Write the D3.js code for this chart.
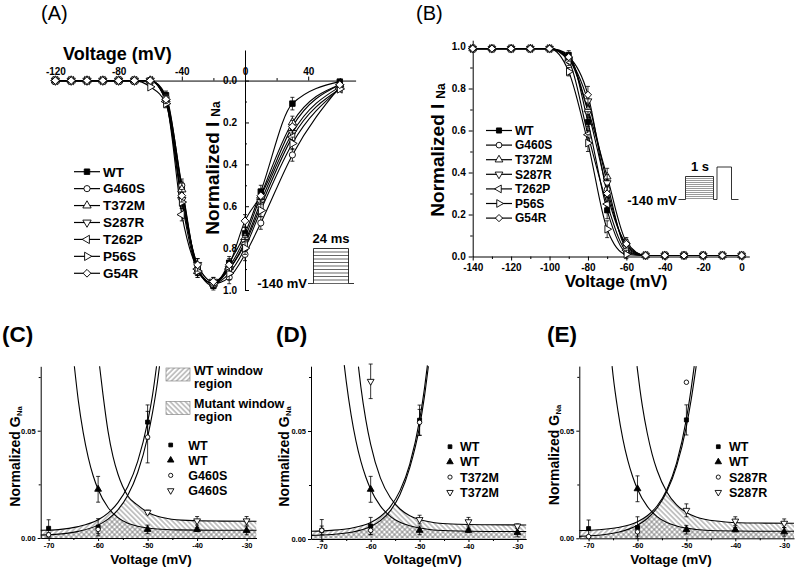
<!DOCTYPE html>
<html>
<head>
<meta charset="utf-8">
<script src="https://cdn.jsdelivr.net/npm/d3@7"></script>
<style>
  html, body { margin: 0; background: #fff; }
  svg { display: block; }
</style>
</head>
<body>
<svg id="fig" width="800" height="571"></svg>
<script>
// ---------- data ----------
const variants = ['WT', 'G460S', 'T372M', 'S287R', 'T262P', 'P56S', 'G54R'];
const shapes = ['squareFilled', 'circle', 'triUp', 'triDown', 'triLeft', 'triRight', 'diamond'];

// (A) I-V relationship, normalized I_Na (positive = downward)
const ivVoltage = [-120, -110, -100, -90, -80, -70, -60, -50, -40, -30, -20, -10, 0, 10, 30, 60];
const ivWT    = [0, 0, 0, 0, 0, 0, 0, 0.07, 0.51, 0.90, 0.98, 0.87, 0.73, 0.53, 0.11, 0.005];
const ivG460S = [0, 0, 0, 0, 0, 0, 0, 0.08, 0.50, 0.90, 0.97, 0.94, 0.83, 0.68, 0.355, 0.03];
const ivT372M = [0, 0, 0, 0, 0, 0, 0, 0.09, 0.52, 0.91, 0.97, 0.89, 0.75, 0.55, 0.20, 0.02];
const ivS287R = [0, 0, 0, 0, 0, 0, 0, 0.10, 0.57, 0.88, 0.96, 0.90, 0.77, 0.58, 0.25, 0.03];
const ivT262P = [0, 0, 0, 0, 0, 0, 0, 0.10, 0.64, 0.90, 0.97, 0.90, 0.78, 0.60, 0.27, 0.04];
const ivP56S  = [0, 0, 0, 0, 0, 0, 0.03, 0.11, 0.58, 0.91, 0.97, 0.92, 0.80, 0.62, 0.30, 0.04];
const ivG54R  = [0, 0, 0, 0, 0, 0, 0, 0.09, 0.55, 0.88, 0.96, 0.88, 0.67, 0.55, 0.22, 0.02];
const ivErr   = [0, 0, 0, 0, 0, 0, 0, 0.02, 0.03, 0.03, 0.02, 0.03, 0.03, 0.03, 0.03, 0.01];

// (B) steady-state inactivation
const inVoltage = [-140, -130, -120, -110, -100, -90, -80, -70, -60, -50, -40, -30, -20, -10, 0];
const inWT    = [0.99, 0.99, 0.99, 0.99, 0.99, 0.96, 0.64, 0.22, 0.02, 0.005, 0.005, 0.005, 0.005, 0.005, 0.005];
const inG460S = [0.99, 0.99, 0.99, 0.99, 0.99, 0.94, 0.69, 0.32, 0.05, 0.005, 0.005, 0.005, 0.005, 0.005, 0.005];
const inT372M = [0.99, 0.99, 0.99, 0.99, 0.99, 0.95, 0.70, 0.38, 0.07, 0.005, 0.005, 0.005, 0.005, 0.005, 0.005];
const inS287R = [0.99, 0.99, 0.99, 0.99, 0.99, 0.94, 0.74, 0.35, 0.04, 0.005, 0.005, 0.005, 0.005, 0.005, 0.005];
const inT262P = [0.99, 0.99, 0.99, 0.99, 0.99, 0.93, 0.58, 0.25, 0.03, 0.005, 0.005, 0.005, 0.005, 0.005, 0.005];
const inP56S  = [0.99, 0.99, 0.99, 0.99, 0.99, 0.88, 0.54, 0.13, 0.01, 0.005, 0.005, 0.005, 0.005, 0.005, 0.005];
const inG54R  = [0.99, 0.99, 0.99, 0.99, 0.99, 0.95, 0.77, 0.30, 0.06, 0.005, 0.005, 0.005, 0.005, 0.005, 0.005];
const inErr   = [0, 0, 0, 0, 0.01, 0.02, 0.04, 0.04, 0.02, 0, 0, 0, 0, 0, 0];

// (C)-(E) window currents, normalized G_Na
const winVoltage = [-70, -60, -50, -40, -30];

const cWtAct      = [0.0045, 0.005, 0.054, null, null];
const cWtActErr   = [0.004, 0.004, 0.008, 0, 0];
const cWtInact    = [null, 0.0227, 0.004, 0.004, 0.0035];
const cWtInactErr = [0, 0.006, 0.002, 0.001, 0.002];
const cMutAct     = [0.0015, 0.004, 0.047, null, null];
const cMutActErr  = [0.001, 0.002, 0.012, 0, 0];
const cMutInact   = [null, null, 0.012, 0.008, 0.008];
const cMutInactErr = [0, 0, 0.001, 0.002, 0.002];

const dWtAct      = [0.004, 0.006, 0.055, null, null];
const dWtActErr   = [0.005, 0.004, 0.007, 0, 0];
const dWtInact    = [null, 0.023, 0.004, 0.004, 0.003];
const dWtInactErr = [0, 0.006, 0.002, 0.001, 0.002];
const dMutAct     = [0.004, 0.004, 0.054, null, null];
const dMutActErr  = [0.002, 0.002, 0.006, 0, 0];
const dMutInact   = [null, 0.073, 0.009, 0.008, 0.006];
const dMutInactErr = [0, 0.008, 0.002, 0.002, 0.001];

const eWtAct      = [0.0045, 0.005, 0.055, null, null];
const eWtActErr   = [0.004, 0.005, 0.007, 0, 0];
const eWtInact    = [null, 0.023, 0.004, 0.004, 0.003];
const eWtInactErr = [0, 0.006, 0.002, 0.001, 0.002];
const eMutAct     = [0.0008, 0.003, 0.0725, null, null];
const eMutActErr  = [0, 0.002, 0, 0, 0];
const eMutInact   = [null, null, 0.013, 0.008, 0.007];
const eMutInactErr = [0, 0, 0.003, 0.002, 0.002];

// fitted curves, [mV, G]
const cFitWtAct = [[-71.6, 0.0036], [-68, 0.0039], [-64, 0.0053], [-60, 0.0085], [-58, 0.0116], [-56, 0.0165],
  [-54, 0.024], [-52, 0.0357], [-50, 0.054], [-49, 0.0667], [-48.2, 0.08]];
const cFitMutAct = [[-71.6, 0.0014], [-68, 0.0018], [-64, 0.0031], [-60, 0.006], [-58, 0.0088], [-56, 0.0131],
  [-54, 0.0199], [-52, 0.0305], [-50, 0.047], [-49, 0.0585], [-48, 0.0728], [-47.6, 0.08]];
const cFitWtInact = [[-64.8, 0.08], [-64, 0.064], [-63, 0.049], [-62, 0.0376], [-61, 0.029], [-60, 0.0226],
  [-58, 0.0142], [-56, 0.0095], [-54, 0.0069], [-52, 0.0055], [-48, 0.0042], [-44, 0.0038], [-36, 0.0036], [-28, 0.0036]];
const cFitMutInact = [[-59.7, 0.08], [-59, 0.0666], [-58, 0.0498], [-57, 0.038], [-56, 0.0298], [-54, 0.0196],
  [-52, 0.0153], [-50, 0.012], [-48, 0.0101], [-46, 0.0091], [-42, 0.0082], [-36, 0.0079], [-28, 0.0078]];

const dFitWtAct = [[-72.2, 0.0036], [-68, 0.004], [-64, 0.005], [-60, 0.0076], [-58, 0.0104], [-56, 0.0149],
  [-54, 0.0224], [-52, 0.0347], [-50, 0.055], [-49, 0.0697], [-48.4, 0.0804]];
const dFitMutAct = [[-72.2, 0.0017], [-68, 0.0021], [-64, 0.0031], [-60, 0.0058], [-58, 0.0085], [-56, 0.013],
  [-54, 0.0206], [-52, 0.033], [-50, 0.052], [-49, 0.066], [-48.2, 0.08]];
const dFitWtInact = [[-65.4, 0.0805], [-65, 0.0731], [-64, 0.0575], [-63, 0.0453], [-62, 0.0359], [-61, 0.0287],
  [-60, 0.023], [-58, 0.0152], [-56, 0.0105], [-54, 0.0077], [-52, 0.0061], [-48, 0.0044], [-44, 0.0038],
  [-36, 0.0035], [-28.2, 0.0035]];
const dFitMutInact = [[-62.5, 0.0798], [-62, 0.0703], [-61, 0.0553], [-60, 0.0438], [-58, 0.0282], [-56, 0.0192],
  [-54, 0.0139], [-52, 0.0108], [-50, 0.009], [-48, 0.008], [-46, 0.0073], [-42, 0.0068], [-36, 0.0066], [-28.2, 0.0065]];

const eFitWtAct = [[-71.9, 0.0036], [-68, 0.004], [-64, 0.005], [-60, 0.0077], [-58, 0.0105], [-56, 0.015],
  [-54, 0.0226], [-52, 0.035], [-50, 0.0555], [-49, 0.07], [-48.4, 0.08]];
const eFitMutAct = [[-71.9, 0.0009], [-68, 0.0014], [-64, 0.0028], [-60, 0.0061], [-58, 0.0092], [-56, 0.0141],
  [-54, 0.0217], [-52, 0.0335], [-50, 0.052], [-49, 0.0648], [-48, 0.08]];
const eFitWtInact = [[-65.2, 0.08], [-65, 0.0758], [-64, 0.0592], [-63, 0.0462], [-62, 0.0363], [-61, 0.0287],
  [-60, 0.0228], [-58, 0.0148], [-56, 0.0101], [-54, 0.0073], [-52, 0.0057], [-48, 0.0041], [-44, 0.0035],
  [-36, 0.0033], [-28, 0.0033]];
const eFitMutInact = [[-60.1, 0.08], [-59.5, 0.0692], [-59, 0.0614], [-58, 0.0488], [-57, 0.039], [-56, 0.0316],
  [-54, 0.0215], [-52, 0.0155], [-50, 0.012], [-48, 0.0099], [-46, 0.0087], [-42, 0.0076], [-36, 0.0071], [-28, 0.007]];

// ---------- drawing ----------
const FONT = '"Liberation Sans", Arial, Helvetica, sans-serif';
const svg = d3.select('#fig').attr('font-family', FONT);
const defs = svg.append('defs');

function hatch(id, angle) {
  defs.append('pattern')
    .attr('id', id)
    .attr('patternUnits', 'userSpaceOnUse')
    .attr('width', 3.6)
    .attr('height', 3.6)
    .attr('patternTransform', `rotate(${angle})`)
    .append('line')
      .attr('x1', 1.8).attr('x2', 1.8)
      .attr('y1', 0).attr('y2', 3.6)
      .attr('stroke', '#6a6a6a')
      .attr('stroke-width', 0.75);
}
hatch('hatchWT', 45);
hatch('hatchMut', -45);

const symbols = {
  squareFilled: { type: d3.symbolSquare, rot: 0, fill: '#000' },
  circle: { type: d3.symbolCircle, rot: 0, fill: '#fff' },
  triUp: { type: d3.symbolTriangle, rot: 0, fill: '#fff' },
  triUpFilled: { type: d3.symbolTriangle, rot: 0, fill: '#000' },
  triDown: { type: d3.symbolTriangle, rot: 180, fill: '#fff' },
  triLeft: { type: d3.symbolTriangle, rot: -90, fill: '#fff' },
  triRight: { type: d3.symbolTriangle, rot: 90, fill: '#fff' },
  diamond: { type: d3.symbolSquare, rot: 45, fill: '#fff' },
};

function marker(g, shape, x, y, size) {
  const s = symbols[shape];
  g.append('path')
    .attr('d', d3.symbol(s.type, size)())
    .attr('transform', `translate(${x},${y}) rotate(${s.rot})`)
    .attr('fill', s.fill)
    .attr('stroke', '#000')
    .attr('stroke-width', 0.9);
}

function styleAxis(g, size) {
  g.attr('font-family', FONT)
    .attr('font-size', size)
    .attr('font-weight', 'bold');
  g.selectAll('path, line').attr('stroke', '#000').attr('stroke-width', 1);
  g.selectAll('text').attr('fill', '#000');
}

function minorAxis(g, axis) {
  g.call(axis.tickFormat('').tickSizeOuter(0));
  g.select('.domain').remove();
  g.selectAll('line').attr('stroke', '#000');
}

function drawPoints(g, x, y, voltages, values, errs, shape, size, cap) {
  voltages.forEach((v, i) => {
    const val = values[i];
    if (val == null) return;
    const e = errs ? errs[i] : 0;
    if (e > 0) {
      const px = x(v);
      const eb = g.append('g').attr('stroke', '#000').attr('stroke-width', 0.8);
      eb.append('line').attr('x1', px).attr('x2', px).attr('y1', y(val - e)).attr('y2', y(val + e));
      [val - e, val + e].forEach(t => eb.append('line')
        .attr('x1', px - cap).attr('x2', px + cap)
        .attr('y1', y(t)).attr('y2', y(t)));
    }
    marker(g, shape, x(v), y(val), size);
  });
}

function text(g, x, y, str, size, weight, anchor) {
  return g.append('text')
    .attr('x', x)
    .attr('y', y)
    .attr('font-size', size)
    .attr('font-weight', weight || 'normal')
    .attr('text-anchor', anchor || 'start')
    .text(str);
}

function yTitle(g, x, y, main, sub, size, subSize, dx, dy) {
  const t = g.append('text')
    .attr('transform', `translate(${x},${y}) rotate(-90)`)
    .attr('text-anchor', 'middle')
    .attr('font-size', size)
    .attr('font-weight', 'bold');
  t.append('tspan').text(main);
  t.append('tspan').attr('font-size', subSize).attr('dx', dx).attr('dy', dy).text(sub);
}

function legendRows(g, x0, x1, xm, xt, y0, step, size, fontSize) {
  variants.forEach((name, i) => {
    const y = y0 + i * step;
    g.append('line')
      .attr('x1', x0).attr('x2', x1)
      .attr('y1', y).attr('y2', y)
      .attr('stroke', '#000')
      .attr('stroke-width', 1.2);
    marker(g, shapes[i], xm, y, size);
    text(g, xt, y, name, fontSize, 'bold').attr('dy', '0.36em');
  });
}

// ----- panel A -----
const ivSeries = [ivWT, ivG460S, ivT372M, ivS287R, ivT262P, ivP56S, ivG54R];
const xA = d3.scaleLinear().domain([-120, 70]).range([55.4, 355.6]);
const yA = d3.scaleLinear().domain([-0.146, 1]).range([50, 290]);
const gA = svg.append('g');

text(gA, 41, 19.5, '(A)', 20);

gA.append('g')
  .attr('transform', `translate(0,${yA(0)})`)
  .call(d3.axisTop(xA).tickValues([-120, -80, -40, 0, 40]).tickSize(4).tickPadding(2)
    .tickSizeOuter(0).tickFormat(d => String(d)))
  .call(styleAxis, 10);
gA.append('g')
  .attr('transform', `translate(0,${yA(0)})`)
  .call(minorAxis, d3.axisTop(xA).tickValues([-100, -60, -20, 20, 60]).tickSize(2.5));

gA.append('g')
  .attr('transform', `translate(${xA(0)},0)`)
  .call(d3.axisLeft(yA).tickValues([0, 0.2, 0.4, 0.6, 0.8, 1.0]).tickSize(-4).tickPadding(8)
    .tickSizeOuter(0).tickFormat(d3.format('.1f')))
  .call(styleAxis, 10);
gA.append('g')
  .attr('transform', `translate(${xA(0)},0)`)
  .call(minorAxis, d3.axisLeft(yA).tickValues([0.1, 0.3, 0.5, 0.7, 0.9]).tickSize(-2));

text(gA, 63, 60, 'Voltage (mV)', 18, 'bold');
yTitle(gA, 218.5, 168, 'Normalized I', 'Na', 19, 12, 5, 1);

const lineA = d3.line()
  .x((_, i) => xA(ivVoltage[i]))
  .y(d => yA(d))
  .curve(d3.curveMonotoneX);
ivSeries.forEach(values => gA.append('path')
  .attr('d', lineA(values))
  .attr('fill', 'none')
  .attr('stroke', '#000')
  .attr('stroke-width', 1.1));
ivSeries.forEach((values, i) => drawPoints(gA, xA, yA, ivVoltage, values, ivErr, shapes[i], 30, 2));

legendRows(gA, 74, 100, 87, 103, 171.7, 16.93, 30, 13.5);

// 24 ms voltage protocol
const protA = gA.append('g').attr('stroke', '#000').attr('fill', 'none').attr('stroke-width', 0.8);
protA.append('path').attr('d', 'M308,283.5H313.5V248.5H348.5V283.5H354');
d3.range(1, 11).forEach(k => protA.append('line')
  .attr('x1', 313.5).attr('x2', 348.5)
  .attr('y1', 248.5 + k * 3.5).attr('y2', 248.5 + k * 3.5)
  .attr('stroke-width', 0.6));
text(gA, 331, 243, '24 ms', 13, 'bold', 'middle');
text(gA, 307, 288, '-140 mV', 13, 'bold', 'end');

// ----- panel B -----
const inSeries = [inWT, inG460S, inT372M, inS287R, inT262P, inP56S, inG54R];
const xB = d3.scaleLinear().domain([-140, 4]).range([472.7, 749.3]);
const yB = d3.scaleLinear().domain([0, 1.03]).range([256.5, 40.2]);
const gB = svg.append('g');

text(gB, 416, 19.5, '(B)', 20);

gB.append('g')
  .attr('transform', `translate(0,${yB(0)})`)
  .call(d3.axisBottom(xB).tickValues(d3.range(-140, 1, 20)).tickSize(4).tickPadding(3)
    .tickSizeOuter(0).tickFormat(d => String(d)))
  .call(styleAxis, 10);
gB.append('g')
  .attr('transform', `translate(0,${yB(0)})`)
  .call(minorAxis, d3.axisBottom(xB).tickValues(d3.range(-130, 0, 20)).tickSize(2.5));

gB.append('g')
  .attr('transform', `translate(${xB(-140)},0)`)
  .call(d3.axisLeft(yB).tickValues([0, 0.2, 0.4, 0.6, 0.8, 1.0]).tickSize(4).tickPadding(3)
    .tickSizeOuter(0).tickFormat(d3.format('.1f')))
  .call(styleAxis, 10);
gB.append('g')
  .attr('transform', `translate(${xB(-140)},0)`)
  .call(minorAxis, d3.axisLeft(yB).tickValues([0.1, 0.3, 0.5, 0.7, 0.9]).tickSize(2.5));

text(gB, 616, 287, 'Voltage (mV)', 17, 'bold', 'middle');
yTitle(gB, 443.5, 150, 'Normalized I', 'Na', 19, 12, 5, 1);

const lineB = d3.line()
  .x((_, i) => xB(inVoltage[i]))
  .y(d => yB(d))
  .curve(d3.curveMonotoneX);
inSeries.forEach(values => gB.append('path')
  .attr('d', lineB(values))
  .attr('fill', 'none')
  .attr('stroke', '#000')
  .attr('stroke-width', 1.1));
inSeries.forEach((values, i) => drawPoints(gB, xB, yB, inVoltage, values, inErr, shapes[i], 26, 2));

legendRows(gB, 486, 512, 499, 515, 130.5, 14.6, 26, 12);

// 1 s prepulse protocol
const protB = gB.append('g').attr('stroke', '#000').attr('fill', 'none').attr('stroke-width', 0.8);
protB.append('path').attr('d', 'M678.5,199.5H685.5V176.5H713.5V199.5H717V167H731.5V199.5H738.5');
d3.range(1, 12).forEach(k => protB.append('line')
  .attr('x1', 685.5).attr('x2', 713.5)
  .attr('y1', 176.5 + k * 2).attr('y2', 176.5 + k * 2)
  .attr('stroke', '#555')
  .attr('stroke-width', 0.6));
text(gB, 700, 171, '1 s', 13, 'bold', 'middle');
text(gB, 677, 205, '-140 mV', 13, 'bold', 'end');

// ----- panels C, D, E -----
function windowPanel(cfg) {
  const g = svg.append('g');
  const x = d3.scaleLinear().domain(cfg.xDomain).range(cfg.xRange);
  const y = d3.scaleLinear().domain([0, 0.08]).range(cfg.yRange);
  const [xl, xr] = x.range();
  const yb = y(0);
  const yt = y(0.08);
  const line = d3.line()
    .x(d => x(d[0]))
    .y(d => y(d[1]))
    .curve(d3.curveMonotoneX);

  // window regions: area under activation, clipped to the area under inactivation
  const region = (act, inact, pattern, id) => {
    const clipId = `clip-${id}`;
    g.append('clipPath')
      .attr('id', clipId)
      .append('path')
        .attr('d', `M${xl},${yb}L${xl},${yt}L` + line(inact).slice(1) + `L${xr},${yb}Z`);
    g.append('path')
      .attr('d', `M${xl},${yb}L` + line(act).slice(1) + `L${xr},${yt}L${xr},${yb}Z`)
      .attr('fill', `url(#${pattern})`)
      .attr('clip-path', `url(#${clipId})`);
  };
  region(cfg.fits.wtAct, cfg.fits.wtInact, 'hatchWT', cfg.id + 'wt');
  region(cfg.fits.mutAct, cfg.fits.mutInact, 'hatchMut', cfg.id + 'mut');

  Object.values(cfg.fits).forEach(f => g.append('path')
    .attr('d', line(f))
    .attr('fill', 'none')
    .attr('stroke', '#000')
    .attr('stroke-width', 1.1));

  g.append('g')
    .attr('transform', `translate(0,${yb})`)
    .call(d3.axisBottom(x).tickValues(winVoltage).tickSize(3).tickPadding(1.5)
      .tickSizeOuter(0).tickFormat(d => String(d)))
    .call(styleAxis, 7.5);
  g.append('g')
    .attr('transform', `translate(0,${yb})`)
    .call(minorAxis, d3.axisBottom(x).tickValues([-65, -55, -45, -35]).tickSize(2));
  g.append('g')
    .attr('transform', `translate(${xl},0)`)
    .call(d3.axisLeft(y).tickValues([0, 0.05]).tickSize(3).tickPadding(2)
      .tickSizeOuter(0).tickFormat(d3.format('.2f')))
    .call(styleAxis, 7.5);
  g.append('g')
    .attr('transform', `translate(${xl},0)`)
    .call(minorAxis, d3.axisLeft(y).tickValues([0.025, 0.075]).tickSize(2));

  const p = cfg.points;
  drawPoints(g, x, y, winVoltage, p.wtAct, p.wtActErr, 'squareFilled', 16, 2);
  drawPoints(g, x, y, winVoltage, p.wtInact, p.wtInactErr, 'triUpFilled', 20, 2);
  drawPoints(g, x, y, winVoltage, p.mutAct, p.mutActErr, 'circle', 16, 2);
  drawPoints(g, x, y, winVoltage, p.mutInact, p.mutInactErr, 'triDown', 20, 2);

  text(g, cfg.labelX, 342, cfg.label, 22.5, 'bold');
  text(g, cfg.xTitleX, 564, cfg.xTitle, 13.5, 'bold', 'middle');
  yTitle(g, cfg.yTitleX, cfg.yTitleY, 'Normalized G', 'Na', 14, 7.5, 0.5, 2.5);

  const legend = [['squareFilled', 'WT'], ['triUpFilled', 'WT'], ['circle', cfg.mutant], ['triDown', cfg.mutant]];
  legend.forEach(([shape, name], i) => {
    const ly = cfg.legendY + i * 15.2;
    marker(g, shape, cfg.legendX, ly, shape === 'circle' || shape === 'squareFilled' ? 14 : 18);
    text(g, cfg.legendTextX, ly, name, 12.5, 'bold').attr('dy', '0.36em');
  });
  return g;
}

const gC = windowPanel({
  id: 'C', label: '(C)', labelX: 2, mutant: 'G460S',
  xDomain: [-71.6, -28], xRange: [40.7, 256.5], yRange: [538, 366.3],
  xTitle: 'Voltage (mV)', xTitleX: 151, yTitleX: 19.5, yTitleY: 456.5,
  legendX: 170.7, legendTextX: 188.3, legendY: 445,
  fits: { wtAct: cFitWtAct, wtInact: cFitWtInact, mutAct: cFitMutAct, mutInact: cFitMutInact },
  points: { wtAct: cWtAct, wtActErr: cWtActErr, wtInact: cWtInact, wtInactErr: cWtInactErr,
    mutAct: cMutAct, mutActErr: cMutActErr, mutInact: cMutInact, mutInactErr: cMutInactErr },
});

windowPanel({
  id: 'D', label: '(D)', labelX: 276, mutant: 'T372M',
  xDomain: [-72.2, -28.2], xRange: [311, 526.2], yRange: [539, 366.2],
  xTitle: 'Voltage(mV)', xTitleX: 423, yTitleX: 288.5, yTitleY: 456.5,
  legendX: 450, legendTextX: 460, legendY: 446.7,
  fits: { wtAct: dFitWtAct, wtInact: dFitWtInact, mutAct: dFitMutAct, mutInact: dFitMutInact },
  points: { wtAct: dWtAct, wtActErr: dWtActErr, wtInact: dWtInact, wtInactErr: dWtInactErr,
    mutAct: dMutAct, mutActErr: dMutActErr, mutInact: dMutInact, mutInactErr: dMutInactErr },
});

windowPanel({
  id: 'E', label: '(E)', labelX: 547, mutant: 'S287R',
  xDomain: [-71.9, -28], xRange: [579.3, 794], yRange: [538.3, 366.1],
  xTitle: 'Voltage (mV)', xTitleX: 671, yTitleX: 558.5, yTitleY: 455,
  legendX: 718.3, legendTextX: 729, legendY: 446.7,
  fits: { wtAct: eFitWtAct, wtInact: eFitWtInact, mutAct: eFitMutAct, mutInact: eFitMutInact },
  points: { wtAct: eWtAct, wtActErr: eWtActErr, wtInact: eWtInact, wtInactErr: eWtInactErr,
    mutAct: eMutAct, mutActErr: eMutActErr, mutInact: eMutInact, mutInactErr: eMutInactErr },
});

// hatch key in (C)
[['hatchWT', 368, 'WT window', 374.5], ['hatchMut', 401.5, 'Mutant window', 407.5]].forEach(([pat, ry, label, ty]) => {
  gC.append('rect')
    .attr('x', 166).attr('y', ry)
    .attr('width', 24).attr('height', 13)
    .attr('fill', `url(#${pat})`)
    .attr('stroke', '#777')
    .attr('stroke-width', 0.6);
  text(gC, 194, ty, label, 12.5, 'bold');
  text(gC, 194, ty + 13.5, 'region', 12.5, 'bold');
});
</script>
</body>
</html>
